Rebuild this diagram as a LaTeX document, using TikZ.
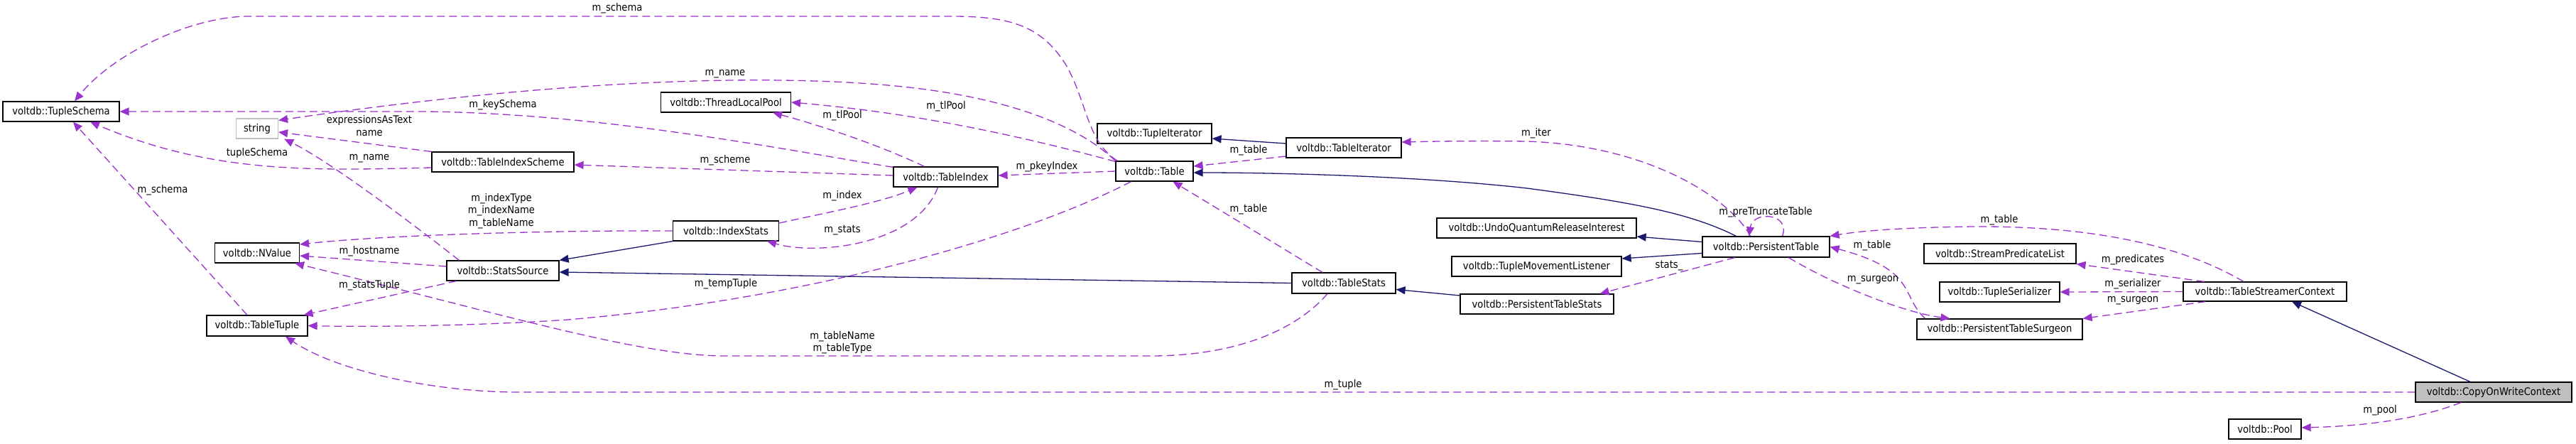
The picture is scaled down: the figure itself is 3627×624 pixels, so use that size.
\documentclass[tikz,border=0pt]{standalone}
\usepackage{fontspec}
\setmainfont{DejaVu Sans}[FakeStretch=0.9]
\usetikzlibrary{arrows.meta}
\definecolor{usec}{HTML}{9A32CD}
\definecolor{inhc}{HTML}{191970}
\definecolor{grayf}{HTML}{BFBFBF}
\begin{document}
\begin{tikzpicture}[x=1pt,y=-1pt,
  every node/.style={font=\fontsize{14.6}{17.5}\selectfont, inner sep=0pt},
  cls/.style={draw=black, line width=1.2pt, fill=white, minimum height=28pt, align=center},
  lbl/.style={align=center},
  use/.style={draw=usec, line width=1.3pt, dash pattern=on 11pt off 6pt, -{Triangle[length=13pt,width=11pt]}},
  inh/.style={draw=inhc, line width=1.3pt, -{Triangle[length=13pt,width=11pt]}}
]
\useasboundingbox (0,0) rectangle (3627,624);
% classes
\node[cls, minimum width=164pt] (ts) at (86,157) {voltdb::TupleSchema};
\node[cls, draw=grayf, minimum width=59pt] (str) at (362,181) {string};
\node[cls, minimum width=200pt] (tis) at (708,228) {voltdb::TableIndexScheme};
\node[cls, minimum width=119pt] (nv) at (362,356) {voltdb::NValue};
\node[cls, minimum width=142pt, minimum height=29pt] (tt) at (362,458.5) {voltdb::TableTuple};
\node[cls, minimum width=158pt] (ss) at (708,381) {voltdb::StatsSource};
\node[cls, minimum width=183pt] (tlp) at (1022,144) {voltdb::ThreadLocalPool};
\node[cls, minimum width=147pt] (tidx) at (1331.5,249) {voltdb::TableIndex};
\node[cls, minimum width=149pt] (ixs) at (1022,325) {voltdb::IndexStats};
\node[cls, minimum width=161pt] (tup) at (1625.5,188) {voltdb::TupleIterator};
\node[cls, minimum width=162pt] (titer) at (1892,208) {voltdb::TableIterator};
\node[cls, minimum width=109pt] (tbl) at (1625.5,241) {voltdb::Table};
\node[cls, minimum width=146pt, minimum height=29pt] (tst) at (1892,398.5) {voltdb::TableStats};
\node[cls, minimum width=281pt] (uq) at (2163.5,321) {voltdb::UndoQuantumReleaseInterest};
\node[cls, minimum width=239pt] (tml) at (2163.5,375) {voltdb::TupleMovementListener};
\node[cls, minimum width=216pt] (pts) at (2164,428) {voltdb::PersistentTableStats};
\node[cls, minimum width=179pt, minimum height=29pt] (pt) at (2486.5,347.5) {voltdb::PersistentTable};
\node[cls, minimum width=214pt] (spl) at (2816,357) {voltdb::StreamPredicateList};
\node[cls, minimum width=169pt] (tser) at (2815.5,411) {voltdb::TupleSerializer};
\node[cls, minimum width=233pt, minimum height=29pt] (sur) at (2815.5,463.5) {voltdb::PersistentTableSurgeon};
\node[cls, minimum width=230pt, minimum height=27pt] (tsc) at (3189,410.5) {voltdb::TableStreamerContext};
\node[cls, fill=grayf, minimum width=220pt] (cow) at (3511,552) {voltdb::CopyOnWriteContext};
\node[cls, minimum width=102pt] (pool) at (3189,604) {voltdb::Pool};
% usage edges
\draw[use] ([xshift=3pt]tbl.north west) .. controls (1530,200) and (1530,140) .. (1500,90) .. controls (1465,35) and (1420,23) .. (1340,23) -- (350,23) .. controls (270,23) and (160,75) .. ([xshift=19pt]ts.north);
\draw[use] (tbl.north west) .. controls (1520,178) and (1420,135) .. (1250,120) .. controls (1080,105) and (800,110) .. ([yshift=-3pt]str.north east);
\draw[use] ([yshift=-1pt]tbl.north west) .. controls (1450,195) and (1300,160) .. (tlp.east);
\draw[use] (tbl.west) -- ([yshift=2pt]tidx.east);
\draw[use] ([xshift=-33pt]tbl.south) .. controls (1450,330) and (1150,420) .. (800,450) .. controls (650,460) and (500,460) .. (tt.east);
\draw[use] ([yshift=-1pt]tidx.north west) .. controls (1100,210) and (850,160) .. (600,157) -- (ts.east);
\draw[use] ([yshift=2pt]tidx.west) -- ([yshift=-4pt]tis.east);
\draw[use] ([xshift=-30pt]tidx.north) .. controls (1240,205) and (1160,178) .. ([xshift=-26pt]tlp.south east);
\draw[use] ([xshift=-11pt]tidx.south) .. controls (1290,345) and (1150,360) .. ([xshift=-17pt]ixs.south east);
\draw[use] ([yshift=11pt]ixs.east) .. controls (1170,298) and (1240,285) .. ([xshift=-40pt]tidx.south);
\draw[use] ([yshift=-8pt]tis.west) .. controls (440,240) and (300,245) .. ([xshift=41pt]ts.south);
\draw[use] (tis.north west) -- ([yshift=-5pt]str.east);
\draw[use] ([xshift=18pt]ss.north west) .. controls (600,330) and (470,230) .. ([xshift=8pt]str.south east);
\draw[use] (ixs.west) .. controls (800,324) and (550,330) .. ([yshift=12pt]nv.east);
\draw[use] ([yshift=6pt]ss.west) -- ([yshift=-4pt]nv.east);
\draw[use] ([xshift=14pt]ss.south west) -- ([xshift=-6pt]tt.north east);
\draw[use] ([xshift=-23pt]tst.south) .. controls (1820,470) and (1730,501) .. (1620,501) -- (1020,501) .. controls (900,501) and (700,440) .. ([xshift=-7pt]nv.south east);
\draw[use] ([xshift=-14pt]tt.north) -- ([xshift=17pt]ts.south);
\draw[use] (cow.west) -- (720,552) .. controls (600,550) and (470,520) .. ([xshift=40pt]tt.south);
\draw[use] ([yshift=-12pt]titer.west) -- ([yshift=7pt]tbl.east);
\draw[use] ([xshift=-30pt]tst.north) -- ([xshift=26pt]tbl.south);
\draw[use] ([xshift=-22pt]pt.north) .. controls (2440,285) and (2330,205) .. (2150,199) .. controls (2080,198) and (2020,199) .. ([yshift=8pt]titer.east);
\draw[use] ([xshift=23pt]pt.north) .. controls (2522,300) and (2468,296) .. ([xshift=-24pt]pt.north);
\draw[use] ([xshift=-44pt]pt.south) -- ([xshift=-20pt]pts.north east);
\draw[use] ([xshift=32pt]pt.south) .. controls (2580,400) and (2680,440) .. ([xshift=-70pt]sur.north);
\draw[use] ([xshift=-105pt]sur.north) .. controls (2675,415) and (2700,380) .. (pt.east);
\draw[use] ([xshift=-30pt]tsc.north) .. controls (3080,350) and (2960,318) .. (2780,319) .. controls (2680,320) and (2620,325) .. (pt.north east);
\draw[use] ([xshift=30pt]tsc.north west) -- (spl.south east);
\draw[use] (tsc.west) -- (tser.east);
\draw[use] ([xshift=32pt]tsc.south west) -- (sur.north east);
\draw[use] ([xshift=-46pt]cow.south) .. controls (3400,592) and (3320,600) .. ([yshift=2pt]pool.east);
% inheritance edges
\draw[inh] ([yshift=6pt]titer.west) -- ([yshift=-7pt]tup.east);
\draw[inh] ([xshift=-42pt]pt.north) .. controls (2380,300) and (2300,285) .. (2150,265) .. controls (2000,248) and (1800,243) .. ([yshift=-2pt]tbl.east);
\draw[inh] ([yshift=7pt]pt.west) -- ([yshift=-12pt]uq.east);
\draw[inh] ([yshift=-9pt]pt.west) -- ([yshift=11pt]tml.east);
\draw[inh] ([yshift=12pt]pts.west) -- ([yshift=-9pt]tst.east);
\draw[inh] (tst.west) -- ([yshift=-2pt]ss.east);
\draw[inh] (ixs.south west) -- (ss.north east);
\draw[inh] ([xshift=-33pt]cow.north) -- ([xshift=38pt]tsc.south);
% labels
\node[lbl] (l1) at (869,12) {m\_schema};
\node[lbl] (l2) at (1021,104) {m\_name};
\node[lbl] (l3) at (708,148) {m\_keySchema};
\node[lbl] (l4) at (1332,150) {m\_tlPool};
\node[lbl] (l5) at (1186,163) {m\_tlPool};
\node[lbl] (l6) at (520,177) {expressionsAsText\\name};
\node[lbl] (l7) at (362,215) {tupleSchema};
\node[lbl] (l8) at (520,223) {m\_name};
\node[lbl] (l9) at (1021,226) {m\_scheme};
\node[lbl] (l10) at (1474,235) {m\_pkeyIndex};
\node[lbl] (l11) at (1758,212) {m\_table};
\node[lbl] (l12) at (229,268) {m\_schema};
\node[lbl] (l13) at (1186,276) {m\_index};
\node[lbl] (l14) at (706,297) {m\_indexType\\m\_indexName\\m\_tableName};
\node[lbl] (l15) at (1758,295) {m\_table};
\node[lbl] (l16) at (1186,324) {m\_stats};
\node[lbl] (l17) at (520,354) {m\_hostname};
\node[lbl] (l18) at (1022,400) {m\_tempTuple};
\node[lbl] (l19) at (520,402) {m\_statsTuple};
\node[lbl] (l20) at (1186,482) {m\_tableName\\m\_tableType};
\node[lbl] (l21) at (1891,542) {m\_tuple};
\node[lbl] (l22) at (2163,188) {m\_iter};
\node[lbl] (l23) at (2486,299) {m\_preTruncateTable};
\node[lbl] (l24) at (2815,310) {m\_table};
\node[lbl] (l25) at (2636,346) {m\_table};
\node[lbl] (l26) at (2350,374) {stats\_};
\node[lbl] (l27) at (2637,394) {m\_surgeon};
\node[lbl] (l28) at (3003,366) {m\_predicates};
\node[lbl] (l29) at (3003,400) {m\_serializer};
\node[lbl] (l30) at (3003,423) {m\_surgeon};
\node[lbl] (l31) at (3351,578) {m\_pool};
\end{tikzpicture}
\end{document}
